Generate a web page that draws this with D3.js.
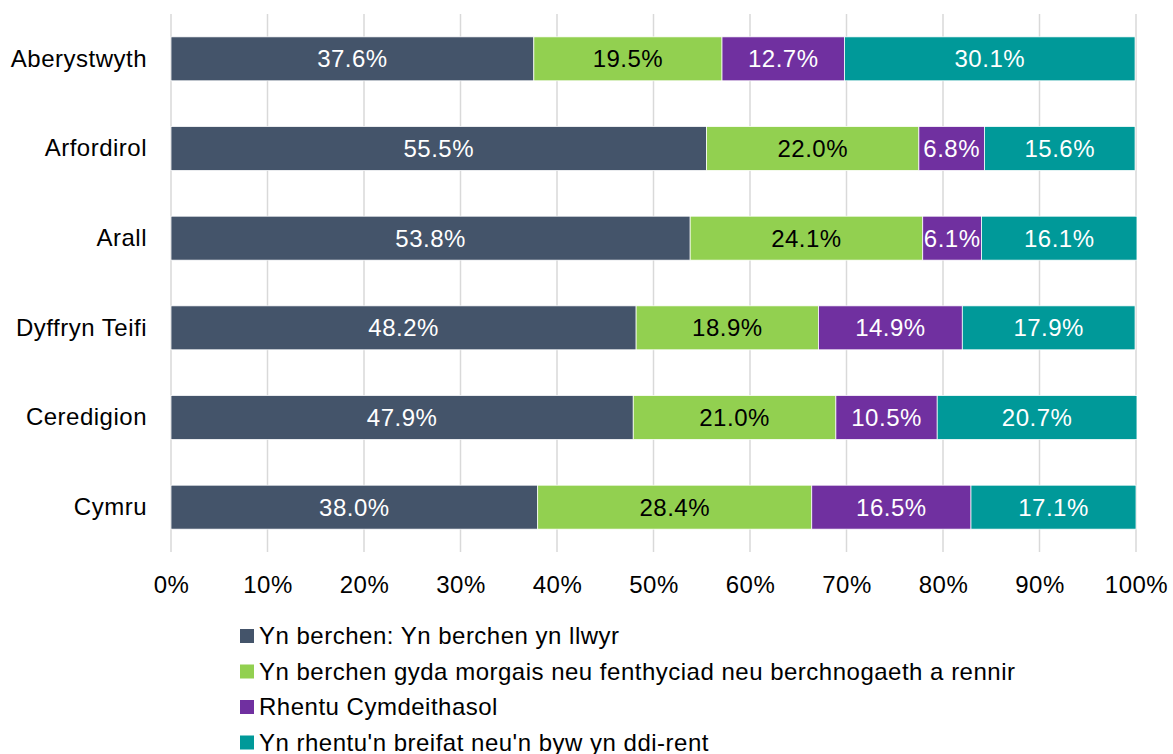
<!DOCTYPE html>
<html>
<head>
<meta charset="utf-8">
<script src="https://cdn.jsdelivr.net/npm/d3@7"></script>
<style>
  body { margin: 0; background: #fff; }
  svg text { font-family: "Liberation Sans", Arial, sans-serif; letter-spacing: 0.5px; }
</style>
</head>
<body>
<div id="chart"></div>
<script>
// data
var areas = ["Aberystwyth", "Arfordirol", "Arall", "Dyffryn Teifi", "Ceredigion", "Cymru"];
var seriesNames = [
  "Yn berchen: Yn berchen yn llwyr",
  "Yn berchen gyda morgais neu fenthyciad neu berchnogaeth a rennir",
  "Rhentu Cymdeithasol",
  "Yn rhentu'n breifat neu'n byw yn ddi-rent"
];
var ownedOutright = [37.6, 55.5, 53.8, 48.2, 47.9, 38.0];
var mortgage = [19.5, 22.0, 24.1, 18.9, 21.0, 28.4];
var socialRent = [12.7, 6.8, 6.1, 14.9, 10.5, 16.5];
var privateRent = [30.1, 15.6, 16.1, 17.9, 20.7, 17.1];
var tickValues = [0, 10, 20, 30, 40, 50, 60, 70, 80, 90, 100];

var colors = ["#44546A", "#92D050", "#7030A0", "#009999"];
var labelColors = ["#fff", "#000", "#fff", "#fff"];

var svgWidth = 1173, svgHeight = 754;
var margin = { top: 14, left: 171, right: 37 };
var plotBottom = 552;
var fontSize = "24px";

var svg = d3.select("#chart").append("svg")
  .attr("width", svgWidth)
  .attr("height", svgHeight);

var rows = areas.map(function(a, i) {
  return { area: a, v: [ownedOutright[i], mortgage[i], socialRent[i], privateRent[i]] };
});

var x = d3.scaleLinear().domain([0, 100]).range([margin.left, svgWidth - margin.right]);
var y = d3.scaleBand().domain(areas).range([margin.top, plotBottom]).paddingInner(0.51).paddingOuter(0.255);

// gridlines
svg.append("g").selectAll("line")
  .data(tickValues)
  .enter().append("line")
  .attr("x1", d => x(d)).attr("x2", d => x(d))
  .attr("y1", margin.top).attr("y2", plotBottom)
  .attr("stroke", "#d9d9d9")
  .attr("stroke-width", 1.5);

// x axis labels
var xAxis = d3.axisBottom(x).tickValues(tickValues).tickFormat(d => d + "%").tickSize(0).tickPadding(0);
var gx = svg.append("g").attr("transform", `translate(0, ${plotBottom + 24})`).call(xAxis);
gx.attr("font-family", null).attr("font-size", null);
gx.select(".domain").remove();
gx.selectAll("text").attr("font-size", fontSize).attr("fill", "#000").attr("dy", "0.71em");

// y axis labels
var yAxis = d3.axisLeft(y).tickSize(0).tickPadding(24);
var gy = svg.append("g").attr("transform", `translate(${margin.left}, 0)`).call(yAxis);
gy.attr("font-family", null).attr("font-size", null);
gy.select(".domain").remove();
gy.selectAll("text").attr("font-size", fontSize).attr("fill", "#000");

// stacked segments
var stackData = rows.map(function(r) {
  var acc = 0;
  return r.v.map(function(val, k) {
    var seg = { area: r.area, k: k, x0: acc, x1: acc + val, val: val };
    acc += val;
    return seg;
  });
});

var rowG = svg.append("g").selectAll("g")
  .data(stackData)
  .enter().append("g");

rowG.selectAll("rect")
  .data(d => d)
  .enter().append("rect")
  .attr("x", d => x(d.x0))
  .attr("y", d => y(d.area))
  .attr("width", d => x(d.x1) - x(d.x0))
  .attr("height", y.bandwidth())
  .attr("fill", d => colors[d.k])
  .attr("stroke", "#fff")
  .attr("stroke-width", 0.75);

rowG.selectAll("text")
  .data(d => d)
  .enter().append("text")
  .attr("x", d => (x(d.x0) + x(d.x1)) / 2)
  .attr("y", d => y(d.area) + y.bandwidth() / 2)
  .attr("dy", "0.35em")
  .attr("text-anchor", "middle")
  .attr("font-size", fontSize)
  .attr("fill", d => labelColors[d.k])
  .text(d => d.val.toFixed(1) + "%");

// legend
var legend = svg.append("g").attr("transform", "translate(240, 636)");
var li = legend.selectAll("g")
  .data(seriesNames)
  .enter().append("g")
  .attr("transform", (d, i) => `translate(0, ${i * 35.5})`);
li.append("rect")
  .attr("x", 0).attr("y", -7)
  .attr("width", 14).attr("height", 14)
  .attr("fill", (d, i) => colors[i]);
li.append("text")
  .attr("x", 19).attr("dy", "0.35em")
  .attr("font-size", fontSize)
  .attr("fill", "#000")
  .text(d => d);
</script>
</body>
</html>
